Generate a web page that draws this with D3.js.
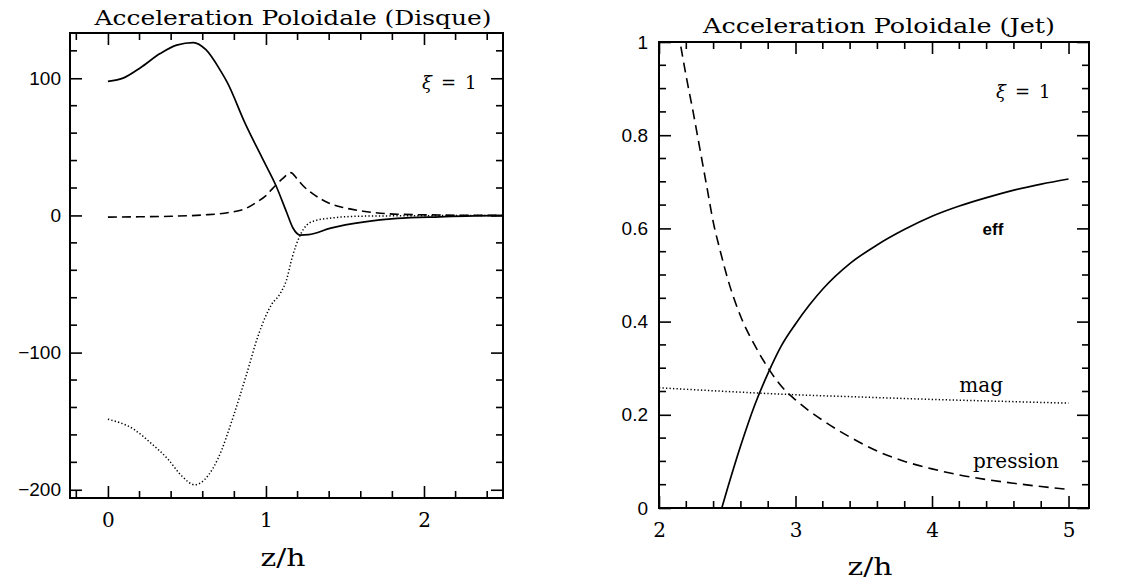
<!DOCTYPE html>
<html><head><meta charset="utf-8">
<script src="https://cdn.jsdelivr.net/npm/d3@7"></script>
<style>
html,body{margin:0;padding:0;background:#fff;}
svg{display:block;}
</style></head>
<body>
<svg id="chart" width="1139" height="585"></svg>
<script>
// ---------- Data: left panel (Disque), z/h vs acceleration ----------
const diskEff = [[0,97.7],[0.1,100.3],[0.206,107.7],[0.33,118],[0.435,124.2],[0.54,126],[0.62,120.8],[0.715,105],[0.755,97],[0.866,67.7],[0.98,41],[1.063,21.8],[1.13,2.5],[1.17,-9],[1.217,-14.3],[1.27,-14],[1.41,-9.2],[1.625,-4.7],[1.83,-2.2],[2.1,-1],[2.5,0]];
const diskPression = [[0,-1.2],[0.2,-1],[0.4,-0.6],[0.6,0.3],[0.77,2.2],[0.875,5.2],[0.94,9.6],[1.0,14.5],[1.04,19.4],[1.105,26.8],[1.157,31.2],[1.195,27],[1.232,22],[1.3,15.5],[1.4,8.9],[1.5,5.5],[1.615,3.1],[1.83,0.9],[2.1,0.3],[2.5,0]];
const diskMag = [[0,-148.6],[0.165,-156],[0.27,-165.8],[0.38,-177.7],[0.466,-189.8],[0.55,-196.4],[0.634,-189.6],[0.696,-177.4],[0.796,-145.7],[0.875,-116.6],[0.955,-86.2],[1.035,-65],[1.09,-57],[1.13,-47],[1.165,-31],[1.217,-14.3],[1.258,-7],[1.32,-3.5],[1.405,-2],[1.616,-0.5],[2.0,-0.2],[2.5,0]];
// ---------- Data: right panel (Jet) ----------
const jetEff = [[2.46,0],[2.5,0.04],[2.6,0.135],[2.7,0.22],[2.8,0.29],[2.9,0.35],[3.0,0.395],[3.1,0.435],[3.2,0.47],[3.4,0.525],[3.6,0.565],[3.8,0.598],[4.0,0.626],[4.2,0.648],[4.4,0.666],[4.6,0.682],[4.8,0.695],[5.0,0.706]];
const jetPression = [[2.16,0.99],[2.2,0.925],[2.25,0.85],[2.3,0.77],[2.35,0.69],[2.4,0.61],[2.45,0.55],[2.5,0.495],[2.6,0.41],[2.7,0.35],[2.8,0.30],[2.9,0.26],[3.0,0.232],[3.2,0.188],[3.4,0.152],[3.6,0.122],[3.8,0.1],[4.0,0.084],[4.2,0.071],[4.4,0.061],[4.6,0.053],[4.8,0.046],[5.0,0.04]];
const jetMag = [[2.0,0.258],[2.5,0.25],[3.0,0.243],[3.5,0.238],[4.0,0.233],[4.5,0.229],[5.0,0.225]];
// ---------- Ticks and labels ----------
const diskXMajor = [0,1,2];
const diskXMinor = [-0.2,0.2,0.4,0.6,0.8,1.2,1.4,1.6,1.8,2.2,2.4];
const diskYMajor = [-200,-100,0,100];
const diskYMinor = [-180,-160,-140,-120,-80,-60,-40,-20,20,40,60,80,120];
const jetXMajor = [2,3,4,5];
const jetXMinor = [2.2,2.4,2.6,2.8,3.2,3.4,3.6,3.8,4.2,4.4,4.6,4.8];
const jetYMajor = [0,0.2,0.4,0.6,0.8,1];
const jetYMinor = [0.05,0.1,0.15,0.25,0.3,0.35,0.45,0.5,0.55,0.65,0.7,0.75,0.85,0.9,0.95];
const titles = ["Acceleration Poloidale (Disque)","Acceleration Poloidale (Jet)"];
const xTitle = "z/h";
const jetLabels = ["eff","mag","pression"];

const svg = d3.select("#chart");
const serif = "'DejaVu Serif', 'Liberation Serif', serif";
const sans = "'Liberation Sans', Arial, sans-serif";
const MAJ = 12, MIN = 7;

function drawPanel(p) {
  const g = svg.append("g");
  const x = d3.scaleLinear().domain(p.xDomain).range([p.left, p.right]);
  const y = d3.scaleLinear().domain(p.yDomain).range([p.bottom, p.top]);
  // major ticks + labels through d3 axes (ticks pointing inward)
  function ax(fn, scale, ticks, tr, fmt, pad, font, fsize) {
    const a = fn(scale).tickValues(ticks).tickSizeInner(-MAJ).tickSizeOuter(0)
      .tickPadding(pad || 0).tickFormat(fmt || (() => ""));
    const ag = g.append("g").attr("transform", tr).call(a);
    ag.select(".domain").remove();
    ag.selectAll(".tick line").attr("stroke", "#000").attr("stroke-width", 1.6);
    ag.selectAll(".tick text").attr("font-family", font || sans)
      .attr("font-size", fsize || 18).attr("fill", "#000");
  }
  ax(d3.axisBottom, x, p.xMajor, `translate(0,${p.bottom})`, p.xFmt, p.xPad, serif, 20);
  ax(d3.axisTop, x, p.xMajor, `translate(0,${p.top})`);
  ax(d3.axisLeft, y, p.yMajor, `translate(${p.left},0)`, p.yFmt, p.yPad, sans, 19);
  ax(d3.axisRight, y, p.yMajor, `translate(${p.right},0)`);
  // minor ticks from the same scales
  const mt = g.append("g").attr("stroke", "#000").attr("stroke-width", 1.6);
  [[p.bottom, -1], [p.top, 1]].forEach(([yy, s]) => {
    mt.selectAll(null).data(p.xMinor).join("line")
      .attr("x1", d => x(d)).attr("x2", d => x(d))
      .attr("y1", yy).attr("y2", yy + s * MIN);
  });
  [[p.left, 1], [p.right, -1]].forEach(([xx, s]) => {
    mt.selectAll(null).data(p.yMinor).join("line")
      .attr("y1", d => y(d)).attr("y2", d => y(d))
      .attr("x1", xx).attr("x2", xx + s * MIN);
  });
  // frame
  g.append("rect").attr("x", p.left).attr("y", p.top)
    .attr("width", p.right - p.left).attr("height", p.bottom - p.top)
    .attr("fill", "none").attr("stroke", "#000").attr("stroke-width", 2);
  // series
  const line = d3.line().x(d => x(d[0])).y(d => y(d[1])).curve(d3.curveMonotoneX);
  p.series.forEach(s => {
    g.append("path").datum(s.data).attr("d", line).attr("fill", "none")
      .attr("stroke", "#000").attr("stroke-width", s.width)
      .attr("stroke-dasharray", s.dash);
  });
  // title
  g.append("text").attr("x", p.titleX).attr("y", p.titleY).attr("text-anchor", "middle")
    .attr("font-family", serif).attr("font-size", 21).attr("textLength", p.titleLen)
    .attr("lengthAdjust", "spacingAndGlyphs").text(p.title);
  // x title
  g.append("text").attr("x", p.xtX).attr("y", p.xtY).attr("text-anchor", "middle")
    .attr("font-family", serif).attr("font-size", 25).attr("textLength", 45)
    .attr("lengthAdjust", "spacingAndGlyphs").text(xTitle);
  // xi label
  const xi = g.append("text").attr("x", p.xiX).attr("y", p.xiY)
    .attr("font-family", serif).attr("font-size", 18);
  xi.append("tspan").attr("font-style", "italic").text("ξ");
  xi.append("tspan").attr("dx", 9).text("=");
  xi.append("tspan").attr("dx", 9).text("1");
  return {g, x, y};
}

const left = drawPanel({
  left: 70, right: 503, top: 33, bottom: 498,
  xDomain: [-0.24, 2.5], yDomain: [-206, 133],
  xMinor: diskXMinor, xMajor: diskXMajor,
  yMinor: diskYMinor, yMajor: diskYMajor,
  xFmt: d3.format("d"), yFmt: d3.format("d"), xPad: 15, yPad: 9,
  series: [
    {data: diskEff, width: 1.7, dash: null},
    {data: diskPression, width: 1.6, dash: "9,5"},
    {data: diskMag, width: 1.5, dash: "1.3,2.2"}
  ],
  title: titles[0], titleX: 293, titleY: 25, titleLen: 397,
  xtX: 283, xtY: 566,
  xiX: 422, xiY: 89
});

const right = drawPanel({
  left: 659, right: 1089, top: 42, bottom: 508,
  xDomain: [2, 5.15], yDomain: [0, 1],
  xMinor: jetXMinor, xMajor: jetXMajor,
  yMinor: jetYMinor, yMajor: jetYMajor,
  xFmt: d3.format("d"), yFmt: d => (d === 0 || d === 1) ? String(d) : d.toFixed(1),
  xPad: 15, yPad: 11,
  series: [
    {data: jetEff, width: 1.7, dash: null},
    {data: jetPression, width: 1.6, dash: "10,6"},
    {data: jetMag, width: 1.5, dash: "1.3,2.2"}
  ],
  title: titles[1], titleX: 879, titleY: 33, titleLen: 352,
  xtX: 870, xtY: 575,
  xiX: 996, xiY: 98
});

// curve labels in the jet panel (positioned with the panel's scales)
const labelPos = [[4.37, 0.585], [4.2, 0.248], [4.3, 0.085]];
jetLabels.forEach((t, i) => {
  right.g.append("text").attr("x", right.x(labelPos[i][0])).attr("y", right.y(labelPos[i][1]))
    .attr("font-family", i === 0 ? sans : serif).attr("font-weight", i === 0 ? "bold" : "normal")
    .attr("font-size", i === 0 ? 17 : 20).text(t);
});
</script>
</body></html>
